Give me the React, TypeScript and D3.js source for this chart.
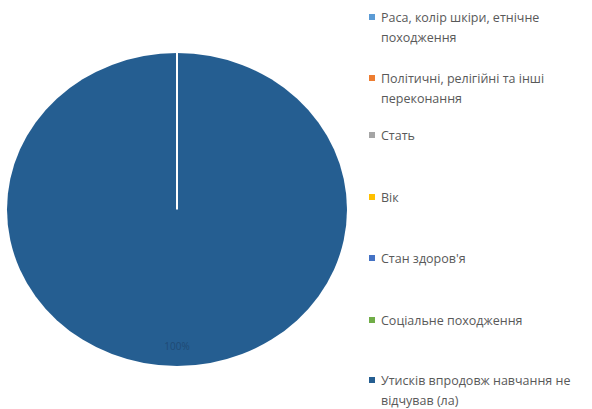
import React from "react";
import * as d3 from "d3";

const categories: string[][] = [
  ["Раса, колір шкіри, етнічне", "походження"],
  ["Політичні, релігійні та інші", "переконання"],
  ["Стать"],
  ["Вік"],
  ["Стан здоров'я"],
  ["Соціальне походження"],
  ["Утисків впродовж навчання не", "відчував (ла)"],
];
const values: number[] = [0, 0, 0, 0, 0, 0, 100];
const colors: string[] = ["#5B9BD5", "#ED7D31", "#A5A5A5", "#FFC000", "#4472C4", "#70AD47", "#255E91"];
const legendY: number[] = [17, 78, 135, 197, 258, 320, 380];

export default function App() {
  const W = 592, H = 409;
  const cx = 177, cy = 209.5, rx = 170, ry = 156.5;
  const pie = d3.pie<number>().sort(null).value((d) => d)(values);
  const arc = d3.arc<d3.PieArcDatum<number>>().innerRadius(0).outerRadius(ry);
  const total = d3.sum(values);
  return (
    <svg width={W} height={H} style={{ position: "absolute", left: 0, top: 0, fontFamily: "'Open Sans', 'Noto Sans', sans-serif" }}>
      <rect width={W} height={H} fill="#fff" />
      <g transform={`translate(${cx},${cy}) scale(${rx / ry},1)`}>
        {pie.map((p, i) =>
          p.value > 0 ? (
            <path key={i} d={arc(p) || ""} fill={colors[i]} stroke="#fff" strokeWidth={0} />
          ) : null
        )}
      </g>
      {/* zero-size slice borders */}
      <line x1={cx} y1={cy} x2={cx} y2={cy - ry} stroke="#fff" strokeWidth={2} />
      {pie.map((p, i) => {
        if (p.value <= 0) return null;
        const [lx, ly] = d3.arc<d3.PieArcDatum<number>>().innerRadius(ry * 0.88).outerRadius(ry * 0.88).centroid(p);
        return (
          <text key={i} x={cx + lx * (rx / ry)} y={cy + ly + 3} textAnchor="middle" fontSize={10} fill="#1F4A75">
            {Math.round((p.value / total) * 100) + "%"}
          </text>
        );
      })}
      {categories.map((lines, i) => (
        <g key={i}>
          <rect x={369} y={legendY[i] - 3} width={6} height={6} fill={colors[i]} />
          {lines.map((t, j) => (
            <text key={j} x={381} y={legendY[i] + 4.5 + j * 20} fontSize={12.5} fill="#595959">
              {t}
            </text>
          ))}
        </g>
      ))}
    </svg>
  );
}
